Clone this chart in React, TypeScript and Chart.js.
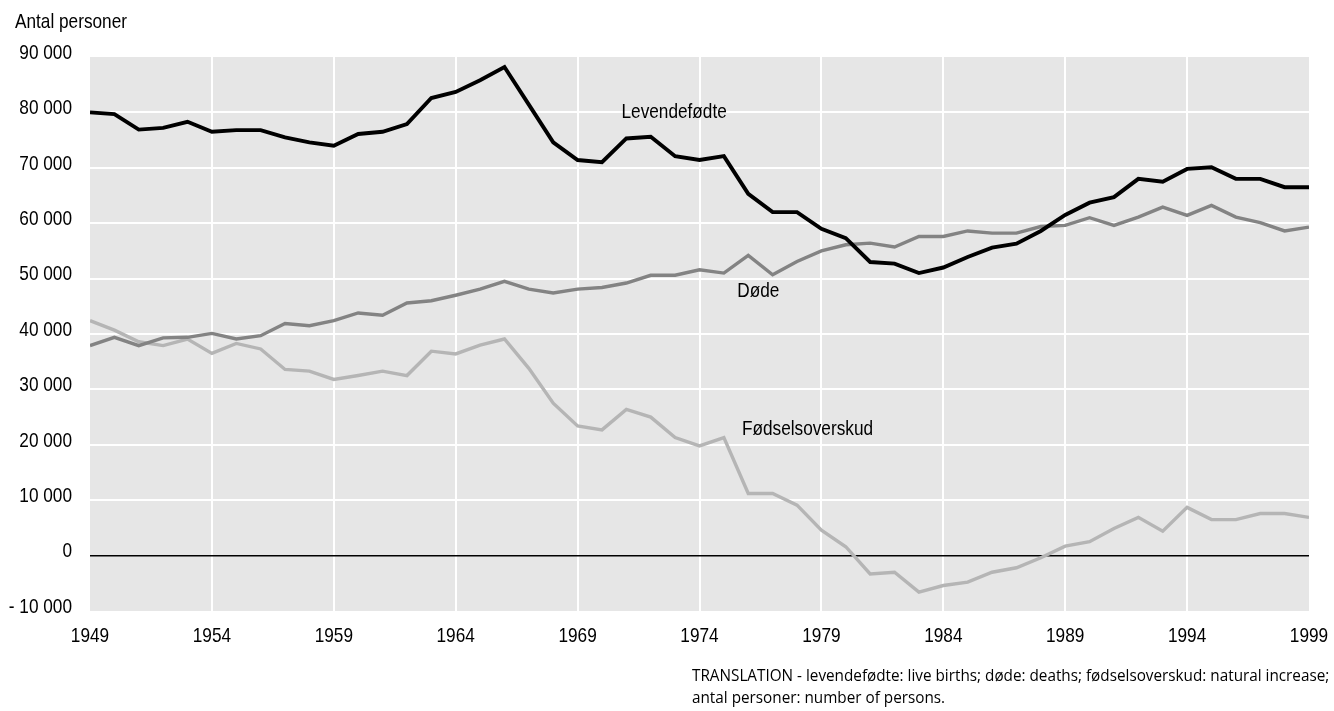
import React, { useEffect, useRef } from "react";
import { Chart, registerables } from "chart.js";

Chart.register(...registerables);

const years = [
  1949, 1950, 1951, 1952, 1953, 1954, 1955, 1956, 1957, 1958,
  1959, 1960, 1961, 1962, 1963, 1964, 1965, 1966, 1967, 1968,
  1969, 1970, 1971, 1972, 1973, 1974, 1975, 1976, 1977, 1978,
  1979, 1980, 1981, 1982, 1983, 1984, 1985, 1986, 1987, 1988,
  1989, 1990, 1991, 1992, 1993, 1994, 1995, 1996, 1997, 1998,
  1999,
];

const births = [
  80000, 79700, 76900, 77200, 78300, 76500, 76800, 76800, 75500, 74600,
  74000, 76100, 76500, 77900, 82600, 83700, 85800, 88200, 81400, 74600,
  71400, 71000, 75300, 75600, 72100, 71400, 72100, 65300, 62000, 62000,
  59000, 57300, 53000, 52700, 51000, 52000, 53900, 55600, 56300, 58600,
  61500, 63700, 64700, 68000, 67500, 69800, 70100, 68000, 68000, 66500,
  66500,
];

const deaths = [
  37900, 39400, 37900, 39300, 39400, 40100, 39100, 39700, 41900, 41500,
  42400, 43800, 43400, 45600, 46000, 47000, 48100, 49500, 48100, 47400,
  48100, 48400, 49200, 50600, 50600, 51600, 51000, 54200, 50700, 53100,
  55000, 56100, 56400, 55700, 57600, 57600, 58600, 58200, 58200, 59400,
  59600, 61000, 59600, 61100, 62900, 61400, 63200, 61100, 60100, 58600,
  59300,
];

const increase = [
  42400, 40700, 38600, 37900, 39100, 36500, 38300, 37300, 33600, 33300,
  31800, 32500, 33300, 32500, 36900, 36400, 38000, 39100, 33800, 27500,
  23400, 22700, 26400, 25000, 21300, 19800, 21300, 11200, 11200, 9100,
  4600, 1600, -3300, -3000, -6600, -5400, -4800, -3000, -2200, -400,
  1700, 2500, 4900, 6900, 4400, 8700, 6500, 6500, 7600, 7600,
  6900,
];

const xTicks = [1949, 1954, 1959, 1964, 1969, 1974, 1979, 1984, 1989, 1994, 1999];
const yTicks = [-10000, 0, 10000, 20000, 30000, 40000, 50000, 60000, 70000, 80000, 90000];

const seriesNames = ["Levendefødte", "Døde", "Fødselsoverskud"];
const seriesColors = ["#000000", "#838383", "#b5b5b5"];
const seriesWidths = [3.9, 3.4, 3.4];
// label anchors in data units (year, persons): left edge / vertical middle of text
const labelYears = [1970.8, 1975.55, 1975.74];
const labelValues = [80000, 47800, 22800];

const yTitle = "Antal personer";
const noteLines = [
  "TRANSLATION - levendefødte: live births; døde: deaths; fødselsoverskud: natural increase;",
  "antal personer: number of persons.",
];

const FONT = '"Liberation Sans", Arial, sans-serif';
const FONT_SIZE = 21;
const NARROW = 0.82;

function fmt(v: number): string {
  const a = Math.abs(v);
  const s = a >= 1000 ? Math.floor(a / 1000) + " " + String(a % 1000).padStart(3, "0") : String(a);
  return v < 0 ? "- " + s : s;
}

function narrowText(ctx: CanvasRenderingContext2D, text: string, x: number, y: number, align: CanvasTextAlign) {
  ctx.save();
  ctx.translate(x, y);
  ctx.scale(NARROW, 1);
  ctx.textAlign = align;
  ctx.fillText(text, 0, 0);
  ctx.restore();
}

const bgPlugin = {
  id: "plotBg",
  beforeDraw(chart: any) {
    const { ctx, chartArea } = chart;
    ctx.save();
    ctx.fillStyle = "#e6e6e6";
    ctx.fillRect(chartArea.left, chartArea.top, chartArea.right - chartArea.left, chartArea.bottom - chartArea.top);
    ctx.restore();
  },
};

const textPlugin = {
  id: "narrowTexts",
  afterDatasetsDraw(chart: any) {
    const { ctx, chartArea } = chart;
    const xs = chart.scales.x;
    const ys = chart.scales.y;
    ctx.save();
    ctx.fillStyle = "#000";
    ctx.font = `${FONT_SIZE}px ${FONT}`;
    ctx.textBaseline = "middle";
    seriesNames.forEach((name, i) => {
      narrowText(ctx, name, xs.getPixelForValue(labelYears[i]), ys.getPixelForValue(labelValues[i]), "left");
    });
    yTicks.forEach((v) => {
      narrowText(ctx, fmt(v), chartArea.left - 18, ys.getPixelForValue(v) - 4, "right");
    });
    xTicks.forEach((v) => {
      narrowText(ctx, String(v), xs.getPixelForValue(v), chartArea.bottom + 25, "center");
    });
    narrowText(ctx, yTitle, 15, 22, "left");
    ctx.restore();
  },
};

export default function App() {
  const ref = useRef<HTMLCanvasElement | null>(null);

  useEffect(() => {
    document.body.style.margin = "0";
    const canvas = ref.current;
    if (!canvas) return;
    const seriesData = [births, deaths, increase];
    const chart = new Chart(canvas, {
      type: "line",
      data: {
        datasets: seriesData.map((vals, i) => ({
          label: seriesNames[i],
          data: vals.map((v, j) => ({ x: years[j], y: v })),
          borderColor: seriesColors[i],
          backgroundColor: seriesColors[i],
          borderWidth: seriesWidths[i],
          pointRadius: 0,
          tension: 0,
          fill: false,
        })),
      },
      options: {
        animation: false,
        responsive: false,
        maintainAspectRatio: false,
        devicePixelRatio: 1,
        layout: { padding: { top: 57, right: 25, bottom: 0, left: 0 } },
        plugins: {
          legend: { display: false },
          tooltip: { enabled: false },
          title: { display: false },
        },
        scales: {
          x: {
            type: "linear",
            min: 1949,
            max: 1999,
            afterBuildTicks: (s: any) => {
              s.ticks = xTicks.map((v) => ({ value: v }));
            },
            afterFit: (s: any) => {
              s.height = 100;
            },
            border: { display: false },
            grid: {
              drawTicks: false,
              lineWidth: 2,
              color: (c: any) =>
                c.tick && (c.tick.value === 1949 || c.tick.value === 1999) ? "rgba(0,0,0,0)" : "#ffffff",
            },
            ticks: { display: false },
          },
          y: {
            type: "linear",
            min: -10000,
            max: 90000,
            afterBuildTicks: (s: any) => {
              s.ticks = yTicks.map((v) => ({ value: v }));
            },
            afterFit: (s: any) => {
              s.width = 90;
            },
            border: { display: false },
            grid: {
              drawTicks: false,
              lineWidth: (c: any) => (c.tick && c.tick.value === 0 ? 1.6 : 2),
              color: (c: any) => {
                if (!c.tick) return "#ffffff";
                if (c.tick.value === 0) return "#000000";
                if (c.tick.value === -10000 || c.tick.value === 90000) return "rgba(0,0,0,0)";
                return "#ffffff";
              },
            },
            ticks: { display: false },
          },
        },
      },
      plugins: [bgPlugin, textPlugin],
    } as any);
    return () => chart.destroy();
  }, []);

  return (
    <div style={{ position: "relative", width: 1334, height: 711, background: "#fff", overflow: "hidden" }}>
      <canvas ref={ref} width={1334} height={711} style={{ position: "absolute", left: 0, top: 0, width: 1334, height: 711 }} />
      <div
        style={{
          position: "absolute",
          left: 692,
          top: 664,
          fontFamily: '"Open Sans", "Noto Sans", sans-serif',
          fontSize: 16,
          lineHeight: "22px",
          color: "#000",
          whiteSpace: "nowrap",
          transform: "scaleX(0.955)",
          transformOrigin: "left top",
        }}
      >
        {noteLines.map((l, i) => (
          <div key={i}>{l}</div>
        ))}
      </div>
    </div>
  );
}
